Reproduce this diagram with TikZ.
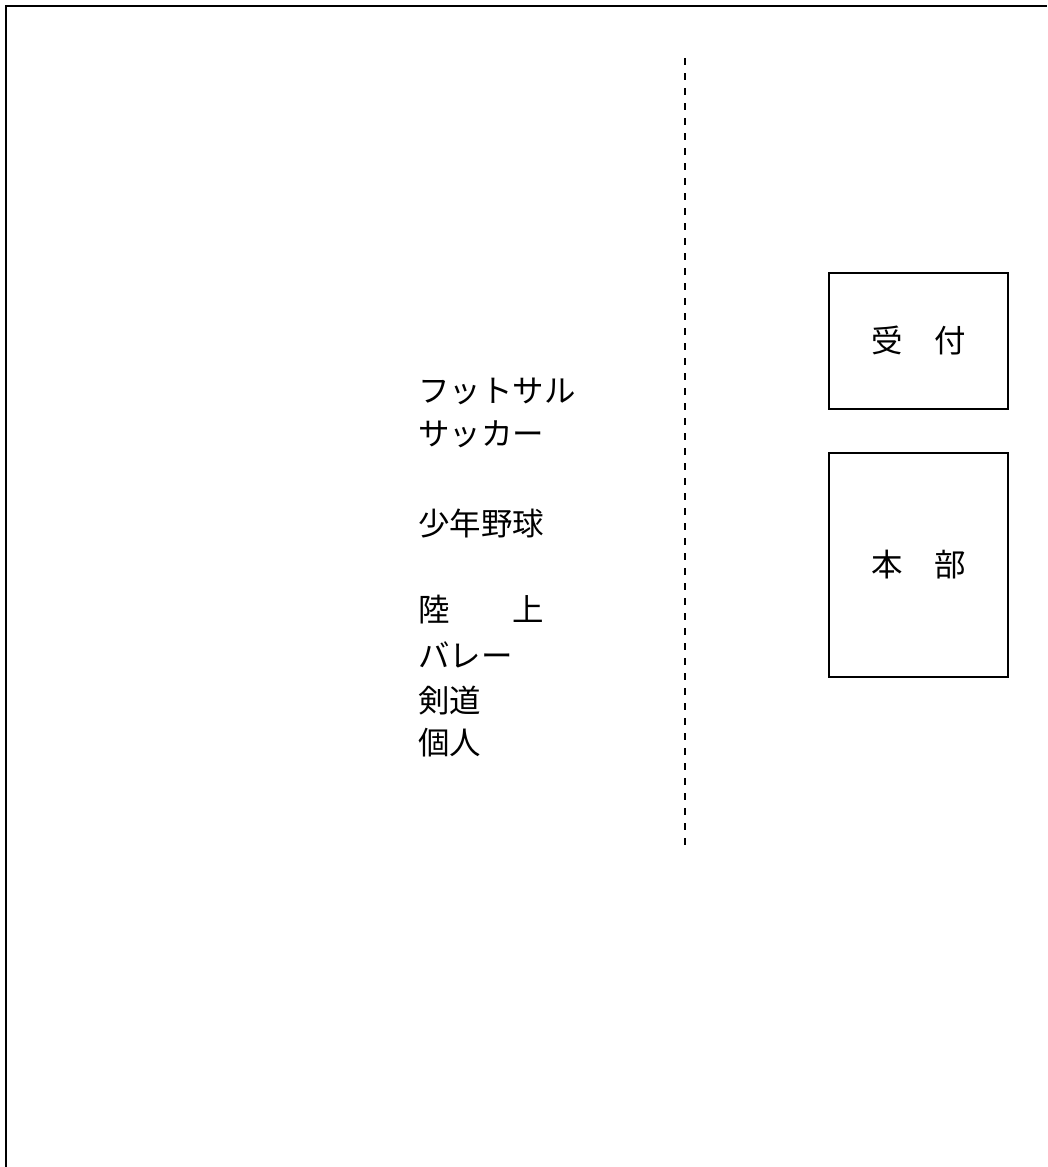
\documentclass[tikz,border=0pt]{standalone}
\usepackage{fontspec}
\usepackage{tikz}
\newfontfamily\jpfont{Noto Sans CJK JP}
\newcommand{\planfont}{\jpfont\fontsize{23.6pt}{28pt}\selectfont}
\tikzset{
    plan/frame/.style={
        draw=black, line width=1.5pt
    },
    plan/divider/.style={
        draw=black, line width=1.5pt, dash pattern=on 5.5pt off 5.75pt
    },
    plan/booth/.style={
        rectangle, draw=black, line width=1.5pt,
        font=\planfont, inner sep=0pt,
        minimum width=134.25pt
    },
    plan/item/.style={
        anchor=west, font=\planfont, inner sep=0pt
    }
}

\begin{document}
\begin{tikzpicture}[x=0.75pt, y=-0.75pt]
    \useasboundingbox (0,0) rectangle (1047,1167);

    % outer frame (cut off at the right and bottom)
    \coordinate (frameBottom) at (6,1167);
    \coordinate (frameCorner) at (6,6);
    \coordinate (frameRight) at (1047,6);
    \draw[plan/frame] (frameBottom) -- (frameCorner) -- (frameRight);

    % dashed divider
    \coordinate (dividerTop) at (685,58);
    \coordinate (dividerBottom) at (685,848);
    \draw[plan/divider] (dividerTop) -- (dividerBottom);

    % booths
    \node[plan/booth, minimum height=102pt] (uketsuke) at (918.5,341)
        {受\hspace{1em}付};
    \node[plan/booth, minimum height=168pt] (honbu) at (918.5,565)
        {本\hspace{1em}部};

    % list of groups
    \node[plan/item] (futsal) at (418,391) {フットサル};
    \node[plan/item] (soccer) at (418,434) {サッカー};
    \node[plan/item] (yakyu) at (418,524) {少年野球};
    \node[plan/item] (rikujo) at (418,610) {陸\hspace{2em}上};
    \node[plan/item] (volley) at (418,655) {バレー};
    \node[plan/item] (kendo) at (418,701) {剣道};
    \node[plan/item] (kojin) at (418,743) {個人};
\end{tikzpicture}
\end{document}
